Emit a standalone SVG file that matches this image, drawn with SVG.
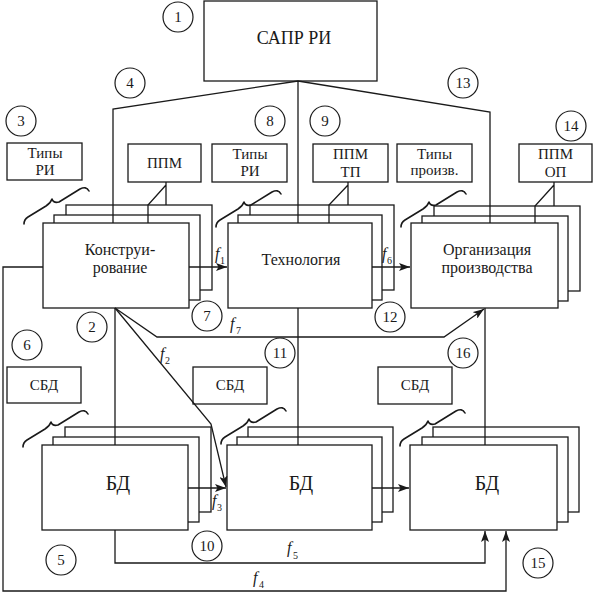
<svg xmlns="http://www.w3.org/2000/svg" xmlns:xlink="http://www.w3.org/1999/xlink" width="594" height="593" viewBox="0 0 594 593">
<style>
.b{fill:#fff;stroke:#1a1a1a;stroke-width:1.3}
.l{fill:none;stroke:#1a1a1a;stroke-width:1.3}
.br{fill:none;stroke:#1a1a1a;stroke-width:1.6;stroke-linecap:round;stroke-linejoin:round}
.c{fill:#fff;stroke:#1a1a1a;stroke-width:1.2}
text{font-family:"Liberation Serif","Times New Roman",serif;fill:#1a1a1a}
.m{font-size:16px;text-anchor:middle}
.s{font-size:15px;text-anchor:middle}
.n{font-size:15px;text-anchor:middle}
.bd{font-size:20px;text-anchor:middle}
.f{font-size:16px;font-style:italic}
.sub{font-size:10px}
</style>
<defs>
<marker id="ar" viewBox="0 0 11 8" refX="11" refY="4" markerWidth="11" markerHeight="8" markerUnits="userSpaceOnUse" orient="auto">
<path d="M0,0 L11,4 L0,8 L2.5,4 z" fill="#1a1a1a"/>
</marker>
<path id="brace" class="br" d="M0,0 C0,-3 1,-5 4,-7 L22,-18 C25,-20 27,-22 28,-25 C29,-22 31,-21 35,-22 L56,-35 C60,-37 63,-37 65,-33"/>
</defs>

<g id="sapr">
<rect class="b" x="204" y="1" width="173" height="80"/>
<text x="294" y="44" style="font-size:18px;text-anchor:middle">САПР РИ</text>
</g>

<g id="tipy-ri-3">
<rect class="b" x="7" y="143" width="75" height="37"/>
<text class="s" x="45" y="158">Типы</text>
<text class="s" x="45" y="175">РИ</text>
</g>
<g id="ppm">
<rect class="b" x="128" y="144" width="73" height="38"/>
<text class="s" x="164.5" y="168">ППМ</text>
</g>
<g id="tipy-ri-8">
<rect class="b" x="212" y="144" width="75" height="38"/>
<text class="s" x="250" y="159">Типы</text>
<text class="s" x="250" y="176">РИ</text>
</g>
<g id="ppm-tp">
<rect class="b" x="313" y="144" width="75" height="38"/>
<text class="s" x="350.5" y="159">ППМ</text>
<text class="s" x="350.5" y="177">ТП</text>
</g>
<g id="tipy-proizv">
<rect class="b" x="397" y="144" width="75" height="38"/>
<text class="s" x="434.5" y="159">Типы</text>
<text class="s" x="434.5" y="175">произв.</text>
</g>
<g id="ppm-op">
<rect class="b" x="519" y="144" width="73" height="38"/>
<text class="s" x="555.5" y="159">ППМ</text>
<text class="s" x="555.5" y="177">ОП</text>
</g>

<g id="konstr">
<rect class="b" x="66" y="205" width="146" height="85"/>
<rect class="b" x="54" y="215" width="146" height="85"/>
<rect class="b" x="43" y="223" width="146" height="85"/>
<text class="m" x="120" y="255">Конструи-</text>
<text class="m" x="120" y="273">рование</text>
</g>
<g id="tehn">
<rect class="b" x="250" y="205" width="144" height="85"/>
<rect class="b" x="238" y="215" width="144" height="85"/>
<rect class="b" x="228" y="223" width="144" height="85"/>
<text class="m" x="301" y="265">Технология</text>
</g>
<g id="org">
<rect class="b" x="434" y="206" width="146" height="85"/>
<rect class="b" x="422" y="216" width="146" height="85"/>
<rect class="b" x="411" y="223" width="147" height="85"/>
<text class="m" x="487" y="255">Организация</text>
<text class="m" x="487" y="273">производства</text>
</g>

<g id="sbd-1">
<rect class="b" x="7" y="367" width="74" height="36"/>
<text class="s" x="44" y="390">СБД</text>
</g>
<g id="sbd-2">
<rect class="b" x="193" y="367" width="74" height="37"/>
<text class="s" x="230" y="390">СБД</text>
</g>
<g id="sbd-3">
<rect class="b" x="378" y="367" width="74" height="37"/>
<text class="s" x="415" y="390">СБД</text>
</g>

<g id="bd-1">
<rect class="b" x="65" y="427" width="146" height="85"/>
<rect class="b" x="53" y="437" width="146" height="85"/>
<rect class="b" x="42" y="445" width="146" height="85"/>
<text class="bd" x="118" y="490">БД</text>
</g>
<g id="bd-2">
<rect class="b" x="248" y="427" width="145" height="85"/>
<rect class="b" x="237" y="437" width="145" height="85"/>
<rect class="b" x="227" y="445" width="145" height="85"/>
<text class="bd" x="301" y="490">БД</text>
</g>
<g id="bd-3">
<rect class="b" x="433" y="427" width="146" height="85"/>
<rect class="b" x="422" y="437" width="146" height="85"/>
<rect class="b" x="410" y="445" width="147" height="85"/>
<text class="bd" x="487" y="490">БД</text>
</g>

<g id="braces">
<use xlink:href="#brace" href="#brace" transform="translate(24,224)"/>
<use xlink:href="#brace" href="#brace" transform="translate(216,227)"/>
<use xlink:href="#brace" href="#brace" transform="translate(401,227)"/>
<use xlink:href="#brace" href="#brace" transform="translate(23,447)"/>
<use xlink:href="#brace" href="#brace" transform="translate(221,444)"/>
<use xlink:href="#brace" href="#brace" transform="translate(400,446)"/>
</g>

<g id="connectors">
<path class="l" d="M113,223 V109 L298,81 L490,112 V223"/>
<path class="l" d="M298,81 V223"/>
<path class="l" d="M166,182 V205 M166,185 L148,205 V223"/>
<path class="l" d="M348,182 V205 M348,185 L329,205 V223"/>
<path class="l" d="M554,182 V206 M554,185 L535,206 V223"/>
<path class="l" d="M189,267 H227" marker-end="url(#ar)"/>
<path class="l" d="M372,267 H410" marker-end="url(#ar)"/>
<path class="l" d="M43,267 H3 V591 H506 V531" marker-end="url(#ar)"/>
<path class="l" d="M115,308 V445"/>
<path class="l" d="M115,308 L157,337 H444 L484,309" marker-end="url(#ar)"/>
<path class="l" d="M115,308 L211,424 L226,487" marker-end="url(#ar)"/>
<path class="l" d="M188,488 H226" marker-end="url(#ar)"/>
<path class="l" d="M298,308 V445"/>
<path class="l" d="M372,488 H409" marker-end="url(#ar)"/>
<path class="l" d="M485,308 V445"/>
<path class="l" d="M115,530 V563 H485 V531" marker-end="url(#ar)"/>
</g>

<g id="flabels">
<text class="f" x="215" y="259">f</text><text class="sub" x="220" y="264">1</text>
<text class="f" x="382" y="259">f</text><text class="sub" x="387" y="264">6</text>
<text class="f" x="230" y="329">f</text><text class="sub" x="236" y="334">7</text>
<text class="f" x="160" y="359">f</text><text class="sub" x="165" y="364">2</text>
<text class="f" x="212" y="506">f</text><text class="sub" x="217" y="511">3</text>
<text class="f" x="287" y="553">f</text><text class="sub" x="293" y="559">5</text>
<text class="f" x="253" y="583">f</text><text class="sub" x="259" y="588">4</text>
</g>

<g id="numbers">
<circle class="c" cx="178" cy="17" r="15"/><text class="n" x="178" y="22">1</text>
<circle class="c" cx="92" cy="327" r="15"/><text class="n" x="92" y="332">2</text>
<circle class="c" cx="21" cy="121" r="15"/><text class="n" x="21" y="126">3</text>
<circle class="c" cx="130" cy="83" r="15"/><text class="n" x="130" y="88">4</text>
<circle class="c" cx="61" cy="560" r="15"/><text class="n" x="61" y="565">5</text>
<circle class="c" cx="27" cy="345" r="15"/><text class="n" x="27" y="350">6</text>
<circle class="c" cx="207" cy="316" r="15"/><text class="n" x="207" y="321">7</text>
<circle class="c" cx="270" cy="121" r="15"/><text class="n" x="270" y="126">8</text>
<circle class="c" cx="325" cy="121" r="15"/><text class="n" x="325" y="126">9</text>
<circle class="c" cx="207" cy="546" r="15"/><text class="n" x="207" y="551">10</text>
<circle class="c" cx="280" cy="353" r="15"/><text class="n" x="280" y="358">11</text>
<circle class="c" cx="390" cy="317" r="15"/><text class="n" x="390" y="322">12</text>
<circle class="c" cx="463" cy="83" r="15"/><text class="n" x="463" y="88">13</text>
<circle class="c" cx="571" cy="126" r="15"/><text class="n" x="571" y="131">14</text>
<circle class="c" cx="538" cy="563" r="15"/><text class="n" x="538" y="568">15</text>
<circle class="c" cx="463" cy="353" r="15"/><text class="n" x="463" y="358">16</text>
</g>
</svg>
